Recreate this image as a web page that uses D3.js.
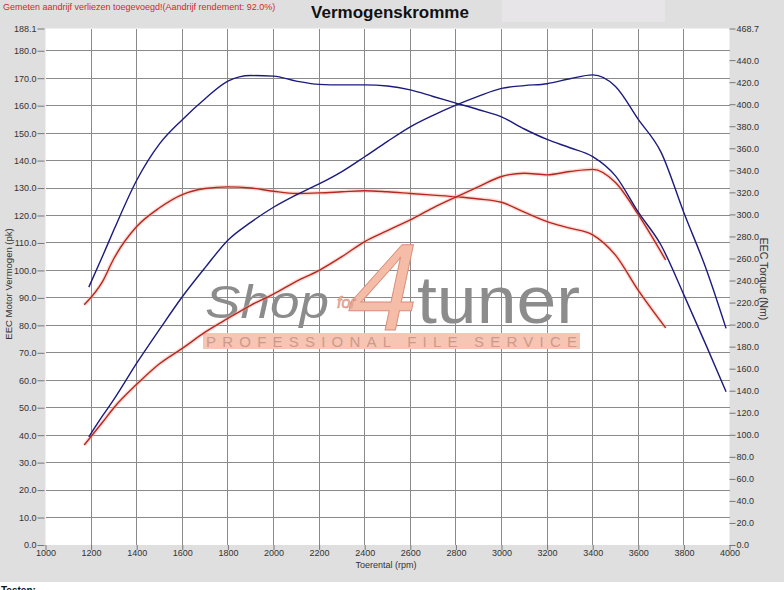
<!DOCTYPE html>
<html>
<head>
<meta charset="utf-8">
<script src="https://cdn.jsdelivr.net/npm/d3@7.9.0/dist/d3.min.js"></script>
<style>
  body { margin: 0; background: #fff; }
  svg { display: block; font-family: "Liberation Sans", Arial, sans-serif; }
</style>
</head>
<body>
<svg id="chart" width="784" height="590"></svg>
<script>
// dyno data (rpm, pk, Nm)
const rpmBlue = [1190, 1250, 1300, 1400, 1500, 1600, 1700, 1800, 1900, 2000, 2100, 2200, 2300, 2400, 2500,
  2600, 2700, 2800, 2900, 3000, 3100, 3200, 3300, 3400, 3500, 3600, 3700, 3800, 3900, 3985];
const bluePower = [39.4, 47, 53, 66.2, 78.5, 90.4, 101, 111, 117.5, 123, 127.5, 131.5, 136, 141.4, 147,
  152.3, 156.5, 160.2, 163.5, 166.3, 167.3, 168, 169.8, 171.2, 167, 155, 143, 121, 100, 78.9];
const blueTorque = [234, 262, 286, 331, 364, 386, 405, 421, 426, 425.5, 421, 418, 417.5, 417.5, 416.5,
  413, 407, 401, 395, 388.5, 377.5, 368, 360.5, 352.5, 335, 302, 272, 227, 180, 139];

const rpmRed = [1170, 1250, 1300, 1400, 1500, 1600, 1700, 1800, 1900, 2000, 2100, 2200, 2300, 2400, 2500,
  2600, 2700, 2800, 2900, 3000, 3100, 3200, 3300, 3400, 3500, 3600, 3720];
const redPower = [36.4, 44.7, 50, 58.5, 66, 71.6, 77.5, 82.5, 87.3, 91.4, 96, 100, 105, 110.5, 114.5,
  118.4, 122.8, 126.7, 130.5, 134.2, 135.4, 134.8, 136, 136.8, 132, 120.3, 103.8];
const redTorque = [218, 239, 260, 289, 306, 318, 323.5, 325, 324, 321, 319, 319.5, 320.5, 321.5, 320.5,
  319, 317.5, 316, 314, 311, 302, 293.5, 287.5, 281.5, 263, 231, 197];

const xTicks = d3.range(1000, 4001, 200);
const leftTicks = d3.range(0, 181, 10).concat([188.1]);
const rightTicks = d3.range(0, 441, 20).concat([468.7]);

const svg = d3.select('#chart');

const x = d3.scaleLinear().domain([1000, 4000]).range([45.5, 729.5]);
const yL = d3.scaleLinear().domain([0, 188.1]).range([545, 28.5]);
const yR = d3.scaleLinear().domain([0, 468.7]).range([545, 28.5]);

// backgrounds
svg.append('rect').attr('width', 784).attr('height', 582).attr('fill', '#dfdfdf');
svg.append('rect').attr('x', 502).attr('y', 0).attr('width', 163).attr('height', 22).attr('fill', '#e7e5e7');
svg.append('rect')
  .attr('x', x(1000)).attr('y', yL(188.1))
  .attr('width', x(4000) - x(1000)).attr('height', yL(0) - yL(188.1))
  .attr('fill', '#fff');

// grid
let grid = svg.append('g').attr('stroke', '#8a8a8a').attr('stroke-width', 1).attr('shape-rendering', 'crispEdges');
xTicks.slice(1, -1).forEach((t) => {
  grid.append('line').attr('x1', x(t)).attr('x2', x(t)).attr('y1', yL(188.1)).attr('y2', yL(0));
});
leftTicks.filter((t) => t > 0 && t <= 180).forEach((t) => {
  grid.append('line').attr('x1', x(1000)).attr('x2', x(4000)).attr('y1', yL(t)).attr('y2', yL(t));
});

// watermark
let wm = svg.append('g');
wm.append('text').attr('x', 205).attr('y', 318).text('Shop')
  .attr('font-size', 46).attr('font-style', 'italic').attr('fill', '#8c8c8c')
  .attr('textLength', 124).attr('lengthAdjust', 'spacingAndGlyphs');
wm.append('text').attr('x', 0).attr('y', 0).text('4')
  .attr('font-size', 124).attr('fill', '#f5bca8')
  .attr('stroke', '#d9907a').attr('stroke-width', 1)
  .attr('transform', 'translate(342,330) skewX(-12)');
wm.append('text').attr('x', 337).attr('y', 308).text('for')
  .attr('font-size', 16).attr('font-style', 'italic').attr('fill', '#f5bca8')
  .attr('stroke', '#d9907a').attr('stroke-width', 0.6);
wm.append('text').attr('x', 417).attr('y', 323).text('tuner')
  .attr('font-size', 66).attr('fill', '#8c8c8c')
  .attr('textLength', 163).attr('lengthAdjust', 'spacingAndGlyphs');
wm.append('rect').attr('x', 203).attr('y', 333).attr('width', 377).attr('height', 16).attr('fill', '#f6c5b3');
wm.append('text').attr('x', 206).attr('y', 347).text('PROFESSIONAL FILE SERVICE')
  .attr('font-size', 15).attr('fill', '#cc9a8b')
  .attr('textLength', 371).attr('lengthAdjust', 'spacing');

// curves
const lineOf = (rpm, vals, yScale) =>
  d3.line().x((d, i) => x(rpm[i])).y((d) => yScale(d)).curve(d3.curveMonotoneX)(vals);

let series = [
  { rpm: rpmRed, vals: redTorque, y: yR, color: '#b8271e', halo: '#f2a59b' },
  { rpm: rpmRed, vals: redPower, y: yL, color: '#b8271e', halo: '#f2a59b' },
  { rpm: rpmBlue, vals: blueTorque, y: yR, color: '#1b1b7e', halo: null },
  { rpm: rpmBlue, vals: bluePower, y: yL, color: '#1b1b7e', halo: null },
];
series.forEach((s) => {
  let d = lineOf(s.rpm, s.vals, s.y);
  if (s.halo) {
    svg.append('path').attr('d', d).attr('fill', 'none')
      .attr('stroke', s.halo).attr('stroke-width', 4).attr('opacity', 0.4);
  }
  svg.append('path').attr('d', d).attr('fill', 'none')
    .attr('stroke', s.color).attr('stroke-width', 1.4);
});

// axes
const fmt = d3.format('.1f');
let axL = svg.append('g').attr('transform', `translate(${x(1000) - 1},0)`)
  .call(d3.axisLeft(yL).tickValues(leftTicks).tickFormat(fmt).tickSize(7).tickPadding(1));
let axR = svg.append('g').attr('transform', `translate(${x(4000)},0)`)
  .call(d3.axisRight(yR).tickValues(rightTicks).tickFormat(fmt).tickSize(6).tickPadding(1));
let axB = svg.append('g').attr('transform', `translate(0,${yL(0)})`)
  .call(d3.axisBottom(x).tickValues(xTicks).tickFormat(d3.format('d')).tickSize(5).tickPadding(0));
[axL, axR, axB].forEach((a) => {
  a.select('.domain').remove();
  a.selectAll('line').attr('stroke', '#777');
  a.selectAll('text').attr('font-size', 9).attr('fill', '#333')
    .attr('font-family', '"Liberation Sans", Arial, sans-serif');
});

// titles and labels
svg.append('text').attr('x', 3).attr('y', 10).text('Gemeten aandrijf verliezen toegevoegd!(Aandrijf rendement: 92.0%)')
  .attr('font-size', 9).attr('fill', '#d02a2a');
svg.append('text').attr('x', 390).attr('y', 18).attr('text-anchor', 'middle').text('Vermogenskromme')
  .attr('font-size', 17).attr('font-weight', 'bold').attr('fill', '#111');
svg.append('text').attr('x', 386).attr('y', 568).attr('text-anchor', 'middle').text('Toerental (rpm)')
  .attr('font-size', 9).attr('fill', '#333');
svg.append('text').attr('transform', 'translate(12,284) rotate(-90)').attr('text-anchor', 'middle')
  .text('EEC Motor Vermogen (pk)').attr('font-size', 9.5).attr('fill', '#333');
svg.append('text').attr('transform', 'translate(760,279) rotate(90)').attr('text-anchor', 'middle')
  .text('EEC Torque (Nm)').attr('font-size', 10.5).attr('fill', '#333');
svg.append('text').attr('x', 1).attr('y', 594).text('Testen:')
  .attr('font-size', 10).attr('font-weight', 'bold').attr('fill', '#111');
</script>
</body>
</html>
